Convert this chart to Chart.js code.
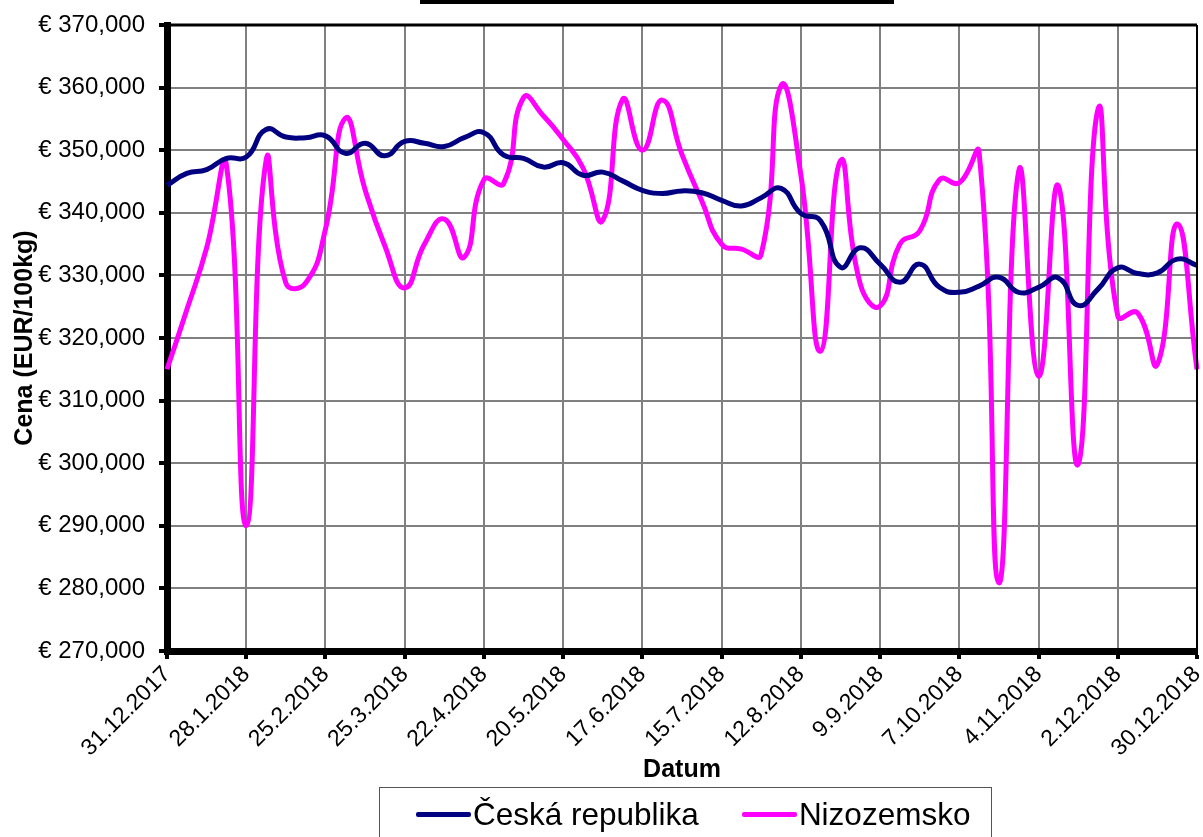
<!DOCTYPE html>
<html>
<head>
<meta charset="utf-8">
<script src="https://cdn.jsdelivr.net/npm/chart.js@4/dist/chart.umd.min.js"></script>
<style>
  body { margin: 0; background: #fff; font-family: "Liberation Sans", Arial, sans-serif; }
  #wrap { position: relative; width: 1203px; height: 837px; overflow: hidden; }
  #titleBar { position: absolute; left: 420px; top: -60px; width: 474px; height: 60px; border-bottom: 4px solid #000; }
  #legend { position: absolute; left: 379px; top: 787px; width: 613px; height: 70px; border: 1.5px solid #555; box-sizing: border-box;
            display: flex; align-items: flex-start; padding: 7px 0 0 36px; font-size: 31.5px; line-height: 38px; color: #000; }
  .item { display: flex; align-items: center; }
  .swatch { display: inline-block; width: 55px; height: 5px; border-radius: 2px; margin-right: 2px; }
</style>
</head>
<body>
<div id="wrap">
  <canvas id="grafCena"></canvas>
  <div id="titleBar"></div>
  <div id="legend"></div>
</div>
<script>
// tydny (nedele) 2018
const tydny = [
  '31.12.2017', '7.1.2018', '14.1.2018', '21.1.2018', '28.1.2018', '4.2.2018', '11.2.2018', '18.2.2018',
  '25.2.2018', '4.3.2018', '11.3.2018', '18.3.2018', '25.3.2018', '1.4.2018', '8.4.2018', '15.4.2018',
  '22.4.2018', '29.4.2018', '6.5.2018', '13.5.2018', '20.5.2018', '27.5.2018', '3.6.2018', '10.6.2018',
  '17.6.2018', '24.6.2018', '1.7.2018', '8.7.2018', '15.7.2018', '22.7.2018', '29.7.2018', '5.8.2018',
  '12.8.2018', '19.8.2018', '26.8.2018', '2.9.2018', '9.9.2018', '16.9.2018', '23.9.2018', '30.9.2018',
  '7.10.2018', '14.10.2018', '21.10.2018', '28.10.2018', '4.11.2018', '11.11.2018', '18.11.2018', '25.11.2018',
  '2.12.2018', '9.12.2018', '16.12.2018', '23.12.2018', '30.12.2018'
];

// popisky osy x (kazdy 4. tyden)
const popiskyX = [
  '31.12.2017', '28.1.2018', '25.2.2018', '25.3.2018', '22.4.2018', '20.5.2018', '17.6.2018',
  '15.7.2018', '12.8.2018', '9.9.2018', '7.10.2018', '4.11.2018', '2.12.2018', '30.12.2018'
];

// EUR/100kg
const ceskaRepublika = [
  344.4, 346.3, 346.9, 348.7, 348.9, 353.3, 352.1, 352.0, 352.3, 349.5,
  351.1, 349.1, 351.4, 351.1, 350.6, 352.0, 352.8, 349.2, 348.7, 347.3,
  348.0, 346.0, 346.5, 345.1, 343.6, 343.1, 343.5, 343.2, 342.0, 341.1,
  342.4, 343.9, 339.9, 338.7, 331.3, 334.4, 331.8, 328.9, 331.8, 328.1,
  327.3, 328.3, 329.7, 327.3, 328.1, 329.6, 325.2, 327.8, 331.2, 330.3,
  330.4, 332.6, 331.6
];

const nizozemsko = [
  315.0, 324.5, 334.4, 347.6, 290.0, 348.3, 328.8, 328.8, 337.4, 355.1,
  343.7, 334.7, 328.0, 335.0, 339.0, 332.9, 345.3, 344.7, 358.4, 355.5,
  351.7, 347.2, 338.8, 358.1, 350.0, 358.0, 349.3, 341.9, 335.0, 334.2,
  333.4, 360.3, 346.1, 317.9, 348.3, 328.6, 325.1, 335.0, 337.1, 345.3,
  344.8, 349.6, 280.9, 346.7, 313.9, 344.3, 299.8, 356.5, 323.5, 324.0,
  315.8, 338.2, 315.0
];

const osaYMin = 270;
const osaYMax = 370;
const osaYKrok = 10;

const FONT = '"Liberation Sans", Arial, sans-serif';

const serie = [
  { nazev: 'Česká republika', data: ceskaRepublika, barva: '#000080' },
  { nazev: 'Nizozemsko', data: nizozemsko, barva: '#FF00FF' }
];

// ramecek grafu nahore a vpravo
const ramecek = {
  id: 'ramecek',
  afterDraw(chart) {
    const a = chart.chartArea;
    const ctx = chart.ctx;
    ctx.save();
    ctx.strokeStyle = '#000';
    ctx.lineWidth = 3;
    ctx.beginPath();
    ctx.moveTo(a.left, a.top);
    ctx.lineTo(a.right, a.top);
    ctx.stroke();
    ctx.lineWidth = 2;
    ctx.beginPath();
    ctx.moveTo(a.right, a.top);
    ctx.lineTo(a.right, a.bottom);
    ctx.stroke();
    ctx.restore();
  }
};

new Chart(document.getElementById('grafCena'), {
  type: 'line',
  data: {
    labels: tydny,
    datasets: serie.map(s => ({
      label: s.nazev,
      data: s.data,
      borderColor: s.barva,
      backgroundColor: s.barva,
      borderWidth: 5,
      pointRadius: 0,
      tension: 0.5,
      fill: false
    }))
  },
  options: {
    responsive: true,
    maintainAspectRatio: false,
    animation: false,
    layout: { padding: { left: 0, top: 25, right: 6, bottom: 52 } },
    plugins: {
      legend: { display: false },
      tooltip: { enabled: false }
    },
    scales: {
      x: {
        grid: { color: '#808080', lineWidth: 2, tickColor: '#000', tickWidth: 4, tickLength: 8 },
        border: { color: '#000', width: 7 },
        ticks: {
          autoSkip: false,
          minRotation: 45,
          maxRotation: 45,
          padding: 2,
          color: '#000',
          font: { family: FONT, size: 23 },
          callback: function (v) {
            const l = this.getLabelForValue(v);
            return popiskyX.includes(l) ? l : null;
          }
        },
        title: { display: true, text: 'Datum', color: '#000', font: { family: FONT, size: 25, weight: 'bold' }, padding: { top: 0, bottom: 0 } },
        afterFit: s => { s.height = 134; s.paddingLeft = 0; s.paddingRight = 0; }
      },
      y: {
        min: osaYMin,
        max: osaYMax,
        grid: { color: '#808080', lineWidth: 2, tickColor: '#000', tickWidth: 4, tickLength: 8 },
        border: { color: '#000', width: 7 },
        ticks: {
          stepSize: osaYKrok,
          padding: 14,
          color: '#000',
          font: { family: FONT, size: 24 },
          callback: v => '€ ' + v.toFixed(3).replace('.', ',')
        },
        title: { display: true, text: 'Cena (EUR/100kg)', color: '#000', font: { family: FONT, size: 25, weight: 'bold' }, padding: { top: 10, bottom: 0 } },
        afterFit: s => { s.width = 167; s.paddingTop = 0; s.paddingBottom = 0; }
      }
    }
  },
  plugins: [ramecek]
});

// legenda
const leg = document.getElementById('legend');
serie.forEach((s, i) => {
  const el = document.createElement('div');
  el.className = 'item';
  el.style.marginRight = i === 0 ? '43px' : '0';
  el.innerHTML = '<span class="swatch" style="background:' + s.barva + '"></span><span>' + s.nazev + '</span>';
  leg.appendChild(el);
});
</script>
</body>
</html>
